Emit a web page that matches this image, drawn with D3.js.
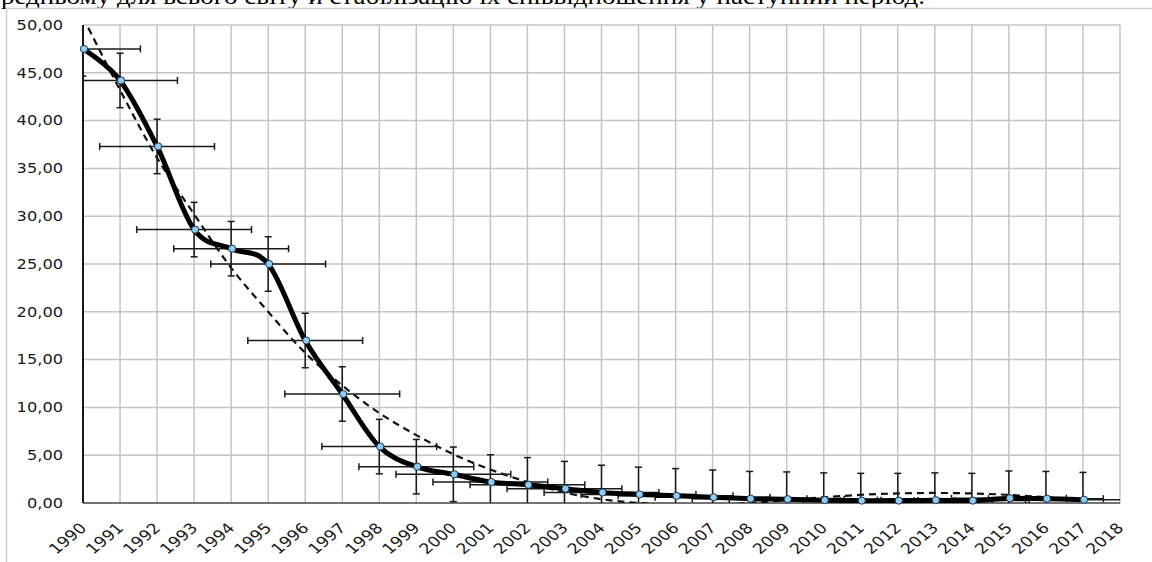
<!DOCTYPE html>
<html>
<head>
<meta charset="utf-8">
<script src="https://cdn.jsdelivr.net/npm/d3@7"></script>
<style>
  body { margin: 0; background: #fff; }
  svg { display: block; }
  .tick-label { font-family: "DejaVu Sans", Verdana, sans-serif; font-size: 13.5px; fill: #1a1a1a; }
  .x-label { font-size: 14.5px; }
  .caption { font-family: "Liberation Serif", "Times New Roman", serif; font-size: 22.5px; fill: #000; }
</style>
</head>
<body>
<svg id="chart"></svg>
<script>
// years on the x axis
const years = [1990, 1991, 1992, 1993, 1994, 1995, 1996, 1997, 1998, 1999,
               2000, 2001, 2002, 2003, 2004, 2005, 2006, 2007, 2008, 2009,
               2010, 2011, 2012, 2013, 2014, 2015, 2016, 2017];

// main series
const values = [47.5, 44.2, 37.3, 28.6, 26.6, 25.0, 17.0, 11.4, 5.9, 3.8,
                3.0, 2.2, 1.9, 1.5, 1.1, 0.9, 0.75, 0.6, 0.45, 0.4,
                0.3, 0.25, 0.25, 0.3, 0.25, 0.5, 0.45, 0.35];

// dashed trend line
const trend = [50.8, 43.2, 36.1, 30.2, 24.6, 20.0, 15.7, 12.3, 9.4, 7.1,
               5.1, 3.5, 2.2, 1.1, 0.4, 0.0, -0.2, -0.2, 0.0, 0.3,
               0.6, 0.85, 1.0, 1.05, 1.0, 0.85, 0.6, 0.3];

// fixed error bar sizes
const errY = 2.85;   // value units
const errX = 1.55;   // years

const xTicks = [1990, 1991, 1992, 1993, 1994, 1995, 1996, 1997, 1998, 1999,
                2000, 2001, 2002, 2003, 2004, 2005, 2006, 2007, 2008, 2009,
                2010, 2011, 2012, 2013, 2014, 2015, 2016, 2017, 2018];
const yTicks = [0, 5, 10, 15, 20, 25, 30, 35, 40, 45, 50];

const caption = "редньому для всього світу й стабілізацію їх співвідношення у наступний період.";

class ErrorLineChart {
    constructor(_config, _data) {
        this.config = {
            parentElement: _config.parentElement,
            containerWidth: _config.containerWidth || 1152,
            containerHeight: _config.containerHeight || 562,
            plot: _config.plot || {left: 83, right: 1120, top: 25, bottom: 503}
        }
        this.data = _data;
        this.initVis();
    }

    initVis() {
        let vis = this;
        const p = vis.config.plot;

        vis.xScale = d3.scaleLinear()
            .domain([xTicks[0], xTicks[xTicks.length - 1]])
            .range([p.left, p.right]);

        vis.yScale = d3.scaleLinear()
            .domain([0, 50])
            .range([p.bottom, p.top]);

        // numbers like 50,00
        vis.fmt = d3.formatLocale({decimal: ",", thousands: " ", grouping: [3], currency: ["", ""]}).format(".2f");

        vis.svg = d3.select(vis.config.parentElement)
            .attr('width', vis.config.containerWidth)
            .attr('height', vis.config.containerHeight);

        // caption line from the page, cut off at the top
        vis.svg.append('text')
            .attr('class', 'caption')
            .attr('transform', 'translate(1,4) scale(1.2,1)')
            .text(caption);

        // outer chart frame
        vis.svg.append('rect')
            .attr('x', 6.5).attr('y', 8.5)
            .attr('width', 1300).attr('height', 700)
            .attr('fill', 'none')
            .attr('stroke', '#d0d0d0')
            .attr('stroke-width', 1.5);

        vis.svg.append('clipPath').attr('id', 'plot-clip')
            .append('rect')
            .attr('x', p.left).attr('y', p.top)
            .attr('width', p.right - p.left).attr('height', p.bottom - p.top);

        vis.chart = vis.svg.append('g');
        vis.plotG = vis.svg.append('g').attr('clip-path', 'url(#plot-clip)');

        vis.renderVis();
    }

    renderVis() {
        let vis = this;
        const p = vis.config.plot;
        const x = vis.xScale, y = vis.yScale;

        // grid
        vis.chart.append('g').selectAll('line.vgrid')
            .data(xTicks.slice(1))
            .join('line')
            .attr('x1', d => x(d)).attr('x2', d => x(d))
            .attr('y1', p.top).attr('y2', p.bottom)
            .attr('stroke', '#c4c4c4').attr('stroke-width', 1.5);

        vis.chart.append('g').selectAll('line.hgrid')
            .data(yTicks.slice(1))
            .join('line')
            .attr('x1', p.left).attr('x2', p.right)
            .attr('y1', d => y(d)).attr('y2', d => y(d))
            .attr('stroke', '#c4c4c4').attr('stroke-width', 1.5);

        // axis lines
        vis.chart.append('line')
            .attr('x1', p.left).attr('x2', p.right)
            .attr('y1', p.bottom).attr('y2', p.bottom)
            .attr('stroke', '#444').attr('stroke-width', 1.5);
        vis.chart.append('line')
            .attr('x1', p.left).attr('x2', p.left)
            .attr('y1', p.top).attr('y2', p.bottom)
            .attr('stroke', '#000').attr('stroke-width', 1.8);

        // y labels
        const yAxis = d3.axisLeft(y).tickValues(yTicks).tickSize(0).tickPadding(0).tickFormat(vis.fmt);
        const yG = vis.chart.append('g').attr('transform', `translate(${p.left - 20},0)`).call(yAxis);
        yG.select('.domain').remove();
        yG.selectAll('text')
            .attr('class', 'tick-label')
            .attr('x', 0)
            .attr('transform', 'scale(1.2,1)')
            .attr('fill', null);

        // x labels, rotated
        const xAxis = d3.axisBottom(x).tickValues(xTicks).tickSize(0).tickFormat(d3.format('d'));
        const xG = vis.chart.append('g').attr('transform', `translate(0,${p.bottom})`).call(xAxis);
        xG.select('.domain').remove();
        xG.selectAll('text')
            .attr('class', 'tick-label x-label')
            .attr('fill', null)
            .attr('x', 0).attr('y', 0).attr('dy', 0)
            .attr('text-anchor', 'end')
            .attr('transform', 'translate(4,26) scale(1.2,1) rotate(-45)');

        // trend line (dashed)
        const trendLine = d3.line()
            .x((d, i) => x(years[i]))
            .y(d => y(d))
            .curve(d3.curveCatmullRom.alpha(0.5));
        vis.plotG.append('path')
            .datum(trend)
            .attr('d', trendLine)
            .attr('fill', 'none')
            .attr('stroke', '#111')
            .attr('stroke-width', 2.2)
            .attr('stroke-dasharray', '7,5');

        // error bars
        const errG = vis.plotG.append('g')
            .attr('stroke', '#1a1a1a').attr('stroke-width', 1.5);
        const cap = 3.5;
        vis.data.forEach(d => {
            const cx = x(d.year), cy = y(d.value);
            const x0 = x(d.year - errX), x1 = x(d.year + errX);
            const y0 = y(d.value - errY), y1 = y(d.value + errY);
            errG.append('line').attr('x1', x0).attr('x2', x1).attr('y1', cy).attr('y2', cy);
            errG.append('line').attr('x1', x0).attr('x2', x0).attr('y1', cy - cap).attr('y2', cy + cap);
            errG.append('line').attr('x1', x1).attr('x2', x1).attr('y1', cy - cap).attr('y2', cy + cap);
            errG.append('line').attr('x1', cx).attr('x2', cx).attr('y1', y0).attr('y2', y1);
            errG.append('line').attr('x1', cx - cap).attr('x2', cx + cap).attr('y1', y0).attr('y2', y0);
            errG.append('line').attr('x1', cx - cap).attr('x2', cx + cap).attr('y1', y1).attr('y2', y1);
        });

        // main smooth line
        const mainLine = d3.line()
            .x(d => x(d.year))
            .y(d => y(d.value))
            .curve(d3.curveCardinal.tension(0));
        vis.plotG.append('path')
            .datum(vis.data)
            .attr('d', mainLine)
            .attr('fill', 'none')
            .attr('stroke', '#000')
            .attr('stroke-width', 5)
            .attr('stroke-linejoin', 'round');

        // markers
        vis.svg.append('g').selectAll('circle')
            .data(vis.data)
            .join('circle')
            .attr('cx', d => x(d.year) + 1)
            .attr('cy', d => y(d.value))
            .attr('r', 3.6)
            .attr('fill', '#8fcdf2')
            .attr('stroke', '#1d3550')
            .attr('stroke-width', 1);
    }
}

const data = years.map((yr, i) => ({year: yr, value: values[i]}));
new ErrorLineChart({parentElement: '#chart'}, data);
</script>
</body>
</html>
